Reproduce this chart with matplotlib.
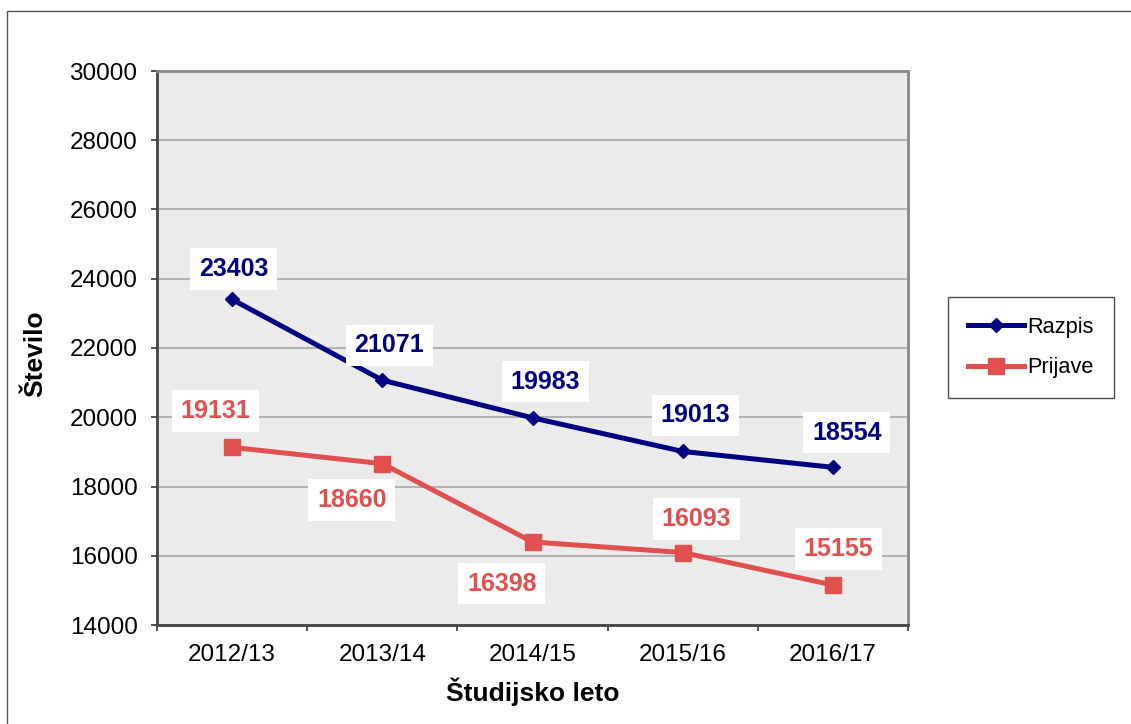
import numpy as np
import matplotlib.pyplot as plt
from matplotlib.patches import Rectangle

# Podatki
leta = ['2012/13', '2013/14', '2014/15', '2015/16', '2016/17']
razpis = [23403, 21071, 19983, 19013, 18554]
prijave = [19131, 18660, 16398, 16093, 15155]

# Odmiki oznak (v točkah)
razpis_off = [(1, 22), (5, 25), (9, 26), (9, 26), (10, 25)]
prijave_off = [(-12, 26), (-22, -26), (-22, -30), (10, 24), (4, 26)]

plt.rcParams['font.family'] = ['Liberation Sans', 'DejaVu Sans']

modra = '#000080'
rdeca = '#E0504E'

fig = plt.figure(figsize=(11.31, 7.24), dpi=100)
fig.patches.append(Rectangle((7 / 1131, -0.05), 1.1, 1 - 11 / 724 + 0.05,
                             transform=fig.transFigure, fill=False,
                             edgecolor='#555555', linewidth=1.0))

ax = fig.add_axes([157 / 1131, 1 - 625 / 724, 751 / 1131, 554 / 724])
ax.set_facecolor('#EBEBEB')

x = np.arange(len(leta))
ax.plot(x, razpis, color=modra, linewidth=3.6, marker='D', markersize=7,
        label='Razpis', zorder=3)
ax.plot(x, prijave, color=rdeca, linewidth=3.6, marker='s', markersize=11,
        label='Prijave', zorder=3)

for xi, v, off in zip(x, razpis, razpis_off):
    ax.annotate(str(v), (xi, v), xytext=off, textcoords='offset points',
                ha='center', va='center', fontsize=18, fontweight='bold',
                color=modra, zorder=4,
                bbox=dict(boxstyle='square,pad=0.35', facecolor='white',
                          edgecolor='none'))
for xi, v, off in zip(x, prijave, prijave_off):
    ax.annotate(str(v), (xi, v), xytext=off, textcoords='offset points',
                ha='center', va='center', fontsize=18, fontweight='bold',
                color=rdeca, zorder=4,
                bbox=dict(boxstyle='square,pad=0.35', facecolor='white',
                          edgecolor='none'))

ax.set_xlim(-0.5, 4.5)
ax.set_ylim(14000, 30000)
ax.set_yticks(np.arange(14000, 30001, 2000))
ax.set_xticks(x)
ax.set_xticklabels(leta)
ax.set_xticks(np.arange(-0.5, 4.6, 1), minor=True)
ax.tick_params(axis='x', which='major', length=0, pad=14, labelsize=17.5)
ax.tick_params(axis='x', which='minor', length=4, width=1.2, color='#333333')
ax.tick_params(axis='y', length=4, width=1.2, color='#333333', pad=10,
               labelsize=17.5)

ax.grid(axis='y', color='#A8A8A8', linewidth=1.2)
ax.set_axisbelow(True)
for s in ['top', 'right']:
    ax.spines[s].set_color('#888888')
    ax.spines[s].set_linewidth(2)
for s in ['left', 'bottom']:
    ax.spines[s].set_color('#444444')
    ax.spines[s].set_linewidth(2)

ax.set_xlabel('Študijsko leto', fontsize=19, fontweight='bold', labelpad=8)
ax.set_ylabel('Število', fontsize=19, fontweight='bold')
ax.yaxis.set_label_coords(-0.1465, 0.49)

leg = fig.legend(loc='center', bbox_to_anchor=(0.9115, 0.520), fontsize=15.7,
                 frameon=True, fancybox=False, edgecolor='#222222',
                 handlelength=2.6, handletextpad=0.15, labelspacing=0.9,
                 borderpad=0.9, borderaxespad=0)
leg.get_frame().set_linewidth(1.0)

fig.savefig('out.png', dpi=100)
